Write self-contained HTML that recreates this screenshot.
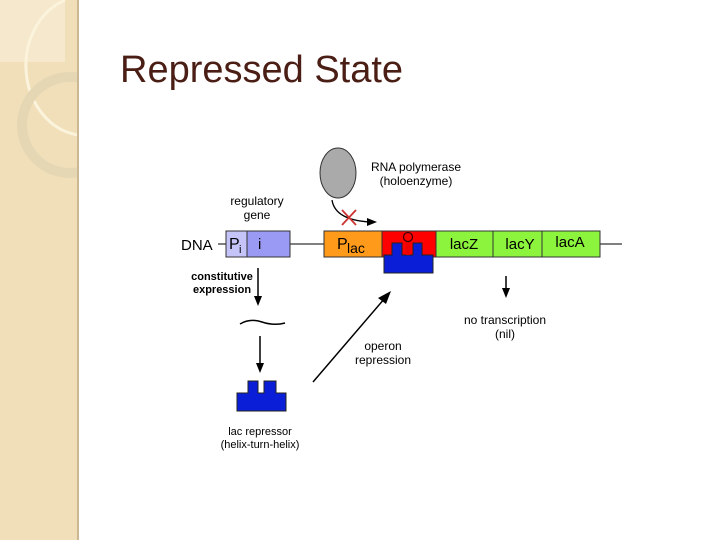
<!DOCTYPE html>
<html><head><style>
body{margin:0;width:720px;height:540px;background:#fff;overflow:hidden;font-family:"Liberation Sans",sans-serif}
</style></head><body>
<svg width="720" height="540" viewBox="0 0 720 540" xmlns="http://www.w3.org/2000/svg" font-family="Liberation Sans, sans-serif">
<defs><clipPath id="c"><rect x="0" y="0" width="78" height="540"/></clipPath></defs>
<rect x="0" y="0" width="78" height="540" fill="#f0dfb8"/>
<g clip-path="url(#c)">
<rect x="0" y="0" width="65" height="62" fill="#f5e8cc"/>
<path d="M65,0 A60,70 0 0 0 78,135" fill="none" stroke="#fbf3dc" stroke-width="3"/>
<circle cx="70" cy="125" r="48" fill="none" stroke="#e6d7b4" stroke-width="10"/>
</g>
<line x1="78" y1="0" x2="78" y2="540" stroke="#cbb892" stroke-width="2"/>
<text x="120" y="82" font-size="38" fill="#4a1e14">Repressed State</text>

<g font-size="12" fill="#000">
<ellipse cx="338" cy="173" rx="18" ry="25" fill="#aaa" stroke="#333"/>
<text x="416" y="171" text-anchor="middle">RNA polymerase</text>
<text x="416" y="185" text-anchor="middle">(holoenzyme)</text>
<path d="M332,200 Q335,220 370,222" fill="none" stroke="#000" stroke-width="1.3"/>
<polygon points="367,218 377,222 367,226" fill="#000"/>
<path d="M342,210 L356,225 M356,210 L342,225" stroke="#c33" stroke-width="1.8"/>
<text x="257" y="205" text-anchor="middle">regulatory</text>
<text x="257" y="219" text-anchor="middle">gene</text>
<text x="181" y="250" font-size="15">DNA</text>
<line x1="218" y1="244" x2="226" y2="244" stroke="#000"/>
<line x1="290" y1="244" x2="324" y2="244" stroke="#000"/>
<line x1="600" y1="244" x2="622" y2="244" stroke="#000"/>
<rect x="226" y="231" width="21" height="26" fill="#c4c4f8" stroke="#333"/>
<rect x="247" y="231" width="43" height="26" fill="#9a9af4" stroke="#333"/>
<text x="229" y="249" font-size="16">P</text><text x="239" y="253" font-size="11">i</text>
<text x="258" y="249" font-size="15">i</text>
<rect x="324" y="231" width="58" height="26" fill="#ff9a1a" stroke="#333"/>
<text x="337" y="249" font-size="16">P</text><text x="347" y="253" font-size="14">lac</text>
<rect x="382" y="231" width="54" height="26" fill="#f00" stroke="#333"/>
<rect x="436" y="231" width="57" height="26" fill="#8cf43c" stroke="#333"/>
<rect x="493" y="231" width="49" height="26" fill="#8cf43c" stroke="#333"/>
<rect x="542" y="231" width="58" height="26" fill="#8cf43c" stroke="#333"/>
<text x="464" y="249" font-size="15" text-anchor="middle">lacZ</text>
<text x="520" y="249" font-size="15" text-anchor="middle">lacY</text>
<text x="570" y="247" font-size="15" text-anchor="middle">lacA</text>
<path d="M384,273 L384,255 L392,255 L392,243 L402,243 L402,255 L413,255 L413,243 L422,243 L422,255 L433,255 L433,273 Z" fill="#0a1ed8" stroke="#222"/>
<line x1="408" y1="242" x2="408" y2="255" stroke="#e00" stroke-width="4"/>
<circle cx="408" cy="237" r="4.5" fill="none" stroke="#400" stroke-width="1.3"/>
<text x="222" y="280" text-anchor="middle" font-weight="bold" font-size="11">constitutive</text>
<text x="222" y="293" text-anchor="middle" font-weight="bold" font-size="11">expression</text>
<line x1="258" y1="268" x2="258" y2="298" stroke="#000" stroke-width="1.5"/>
<polygon points="254,296 262,296 258,306" fill="#000"/>
<path d="M240,324 Q250,318 262,322 T285,323" fill="none" stroke="#000" stroke-width="1.5"/>
<line x1="260" y1="336" x2="260" y2="365" stroke="#000" stroke-width="1.5"/>
<polygon points="256,363 264,363 260,373" fill="#000"/>
<path d="M237,411 L237,393 L248,393 L248,381 L258,381 L258,393 L264,393 L264,381 L276,381 L276,393 L286,393 L286,411 Z" fill="#0a1ed8" stroke="#222"/>
<text x="260" y="435" text-anchor="middle" font-size="11">lac repressor</text>
<text x="260" y="448" text-anchor="middle" font-size="11">(helix-turn-helix)</text>
<line x1="313" y1="382" x2="385" y2="298" stroke="#000" stroke-width="1.5"/>
<polygon points="391,291 378,298 386,304" fill="#000"/>
<text x="383" y="350" text-anchor="middle" font-size="12">operon</text>
<text x="383" y="364" text-anchor="middle" font-size="12">repression</text>
<line x1="506" y1="276" x2="506" y2="290" stroke="#000" stroke-width="1.5"/>
<polygon points="502,288 510,288 506,298" fill="#000"/>
<text x="505" y="324" text-anchor="middle" font-size="12">no transcription</text>
<text x="505" y="338" text-anchor="middle" font-size="12">(nil)</text>
</g>
</svg>
</body></html>
